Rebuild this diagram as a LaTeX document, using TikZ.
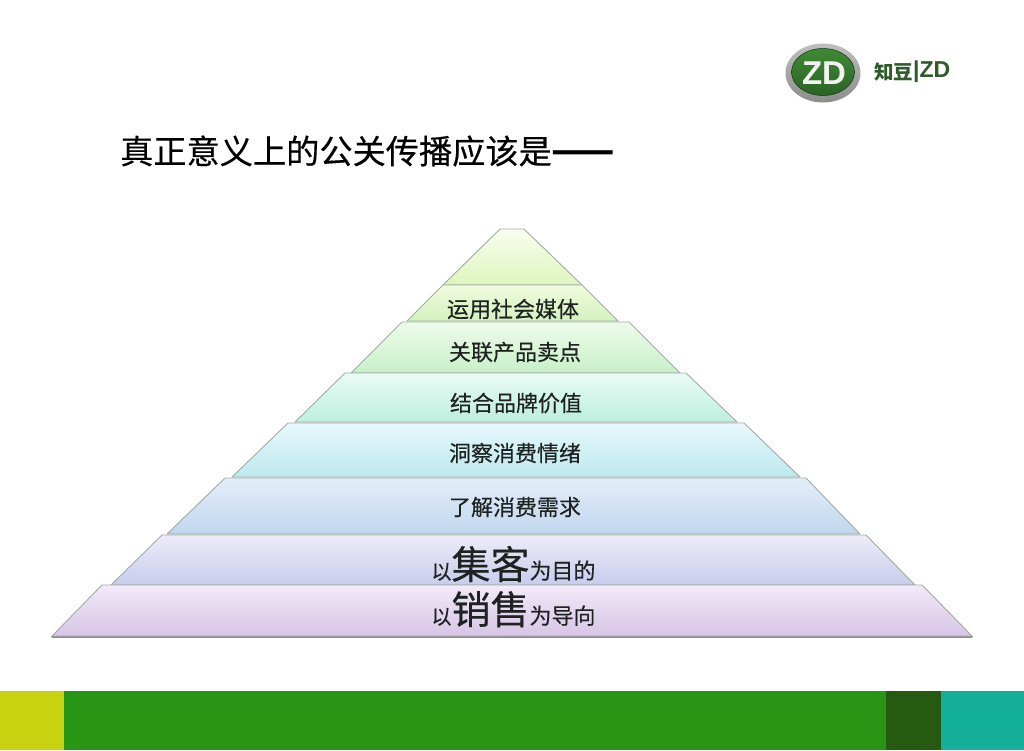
\documentclass[tikz,border=0pt]{standalone}
\usepackage{fontspec}
\setmainfont{Liberation Sans}
\newfontfamily\cjk[FakeBold=0.35]{Noto Sans CJK SC}
\newfontfamily\cjkplain{Noto Sans CJK SC}
\definecolor{edgegray}{HTML}{A3ABA6}
\definecolor{inkdark}{HTML}{1E2220}
\definecolor{logogreen}{HTML}{2E5B2A}
\definecolor{fa}{HTML}{C8D210}\definecolor{fb}{HTML}{289614}\definecolor{fc}{HTML}{265A10}\definecolor{fd}{HTML}{14B09A}
\definecolor{a1}{HTML}{F8FDED}\definecolor{a2}{HTML}{DEF5BE}
\definecolor{b1}{HTML}{F0FBDF}\definecolor{b2}{HTML}{D4F2BC}
\definecolor{c1}{HTML}{EEFBEA}\definecolor{c2}{HTML}{C8F0C8}
\definecolor{d1}{HTML}{EAFBF5}\definecolor{d2}{HTML}{BDEFDD}
\definecolor{e1}{HTML}{E8F8FC}\definecolor{e2}{HTML}{BCE8EE}
\definecolor{f1}{HTML}{E4EEFA}\definecolor{f2}{HTML}{C0D6EE}
\definecolor{g1}{HTML}{EDECF9}\definecolor{g2}{HTML}{C8CCEC}
\definecolor{h1}{HTML}{F2EAF8}\definecolor{h2}{HTML}{D8C4E6}
\definecolor{logotop}{HTML}{3F8A34}\definecolor{logomid}{HTML}{174A1A}\definecolor{logolow}{HTML}{2B6326}
\newcommand{\fs}[1]{\fontsize{#1}{#1}\selectfont}
\tikzset{
  layer/.style 2 args={draw=edgegray,line width=0.9pt,top color=#1,bottom color=#2,line join=round},
  lbl/.style={inner sep=0pt,text=inkdark,font=\cjk\fs{22}},
  bar/.style={fill=#1,draw=none}
}
\begin{document}
\begin{tikzpicture}[x=1pt,y=-1pt]
\useasboundingbox (0,0) rectangle (1024,750);
\fill[white] (0,0) rectangle (1024,750);
% footer
\path[bar=fa] (0,691) rectangle (64,750);
\path[bar=fb] (64,691) rectangle (886,750);
\path[bar=fc] (886,691) rectangle (941,750);
\path[bar=fd] (941,691) rectangle (1024,750);
% logo
\shade[top color=black!25,middle color=white!92!black,bottom color=black!45] (823,73) ellipse [x radius=37.5,y radius=29.5];
\shade[top color=logotop,middle color=logomid,bottom color=logolow,draw=logomid!70!black,line width=0.5pt] (823,72) ellipse [x radius=31.5,y radius=23.5];
\node[inner sep=0pt,text=white!90!gray,font=\bfseries\fs{33}] (logoZD) at (824,73) {ZD};
\node[inner sep=0pt,anchor=west,text=logogreen,font=\cjkplain\bfseries\fs{19.5}] (logoCN) at (874,72) {知豆};
\node[inner sep=0pt,anchor=west,text=logogreen,font=\bfseries\fs{23}] (logoEN) at (913,72) {|ZD};
% title
\node[inner sep=0pt,anchor=west,text=black,font=\cjk\fs{33.2}] (title) at (120,151) {真正意义上的公关传播应该是{\cjkplain\bfseries\fs{37}——}};
% pyramid
\path[layer={a1}{a2}] (500,229) -- (524,229) -- (582,285) -- (443,285) -- cycle;
\path[layer={b1}{b2}] (443,285) -- (582,285) -- (618,321) -- (407,321) -- cycle;
\path[layer={c1}{c2}] (402,322) -- (629,322) -- (680,373) -- (351,373) -- cycle;
\path[layer={d1}{d2}] (345,373) -- (686,373) -- (737,422) -- (295,422) -- cycle;
\path[layer={e1}{e2}] (288,423) -- (744,423) -- (800,477) -- (232,477) -- cycle;
\path[layer={f1}{f2}] (225,478) -- (806,478) -- (860,534) -- (167,534) -- cycle;
\path[layer={g1}{g2}] (162,535) -- (866,535) -- (915,585) -- (111,585) -- cycle;
\fill[black!45] (52,637.8) -- (972,637.8) -- (973,636) -- (51,636) -- cycle;
\path[layer={h1}{h2}] (102,585) -- (922,585) -- (972,636) -- (52,636) -- cycle;
% labels
\node[lbl] (t1) at (513,309) {运用社会媒体};
\node[lbl] (t2) at (515,352) {关联产品卖点};
\node[lbl] (t3) at (516,403) {结合品牌价值};
\node[lbl] (t4) at (515,453) {洞察消费情绪};
\node[lbl] (t5) at (515,507) {了解消费需求};
\node[lbl,anchor=base] (t6) at (513.5,579) {\fs{20}以\fs{39}集客\fs{22}为目的};
\node[lbl,anchor=base] (t7) at (513.5,624) {\fs{20}以\fs{39}销售\fs{22}为导向};
\end{tikzpicture}
\end{document}
